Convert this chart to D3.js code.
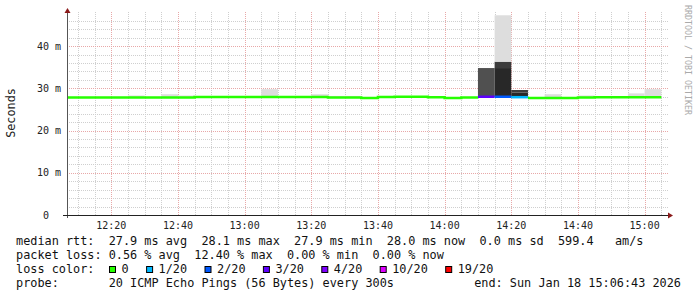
<!DOCTYPE html>
<html>
<head>
<meta charset="utf-8">
<script src="https://cdn.jsdelivr.net/npm/d3@7"></script>
<style>
  body { margin: 0; background: #fff; }
  text { font-family: "DejaVu Sans Mono", monospace; }
</style>
</head>
<body>
<script>
// step end times (5 min steps), median rtt in ms, lost pings out of 20
const stepEnd = ['12:10','12:15','12:20','12:25','12:30','12:35','12:40','12:45','12:50','12:55',
  '13:00','13:05','13:10','13:15','13:20','13:25','13:30','13:35','13:40','13:45',
  '13:50','13:55','14:00','14:05','14:10','14:15','14:20','14:25','14:30','14:35',
  '14:40','14:45','14:50','14:55','15:00','15:05'];
const median = [27.8,27.8,27.8,27.8,27.8,27.8,27.8,27.8,27.95,27.95,
  27.95,27.95,27.95,27.95,27.95,27.95,27.8,27.8,27.7,27.95,
  28.0,28.0,27.9,27.7,27.8,28.0,28.0,27.9,27.7,27.7,
  27.7,27.8,27.9,27.9,27.9,27.9];
const loss = [0,0,0,0,0,0,0,0,0,0, 0,0,0,0,0,0,0,0,0,0, 0,0,0,0,0,3,2,1,0,0, 0,0,0,0,0,0];

// smoke bands: step index, low ms, high ms, pings overlapping (darker = more)
const bandStep  = [4, 6, 7, 12, 15, 16, 17, 19, 22, 25, 26, 26, 26, 27, 27, 29, 31, 34, 35];
const bandLo    = [27.8, 27.8, 27.8, 27.9, 27.9, 27.8, 27.8, 27.9, 27.9, 28.0, 28.0, 34.8, 36.3, 27.9, 29.0, 27.7, 27.8, 27.9, 27.9];
const bandHi    = [28.3, 28.6, 28.3, 29.8, 28.6, 28.2, 28.2, 28.2, 28.0, 34.8, 34.8, 36.3, 47.3, 29.0, 29.6, 28.6, 28.3, 28.8, 29.8];
const bandPings = [1, 1, 1, 1, 1, 1, 1, 1, 1, 8, 10, 9, 1, 10, 9, 1, 1, 1, 1];

const yTicks = [0, 10, 20, 30, 40];
const lossLevels = [0, 1, 2, 3, 4, 10, 19];
const lossLabels = ['0', '1/20', '2/20', '3/20', '4/20', '10/20', '19/20'];
const lossColors = ['#26ff00', '#00b8ff', '#0059ff', '#5e00ff', '#7e00ff', '#dd00ff', '#ff0000'];

const legendRows = [
  'median rtt:  27.9 ms avg  28.1 ms max  27.9 ms min  28.0 ms now  0.0 ms sd  599.4   am/s',
  'packet loss: 0.56 % avg  12.40 % max  0.00 % min  0.00 % now'
];
const probeText = 'probe:       20 ICMP Echo Pings (56 Bytes) every 300s';
const endText = 'end: Sun Jan 18 15:06:43 2026';

const W = 697, H = 297;
const plotL = 67, plotR = 667, plotT = 14, plotB = 215;

const parseT = (s) => {
  const [h, m] = s.split(':').map(Number);
  return new Date(2026, 0, 18, h, m, 0);
};
const tStart = new Date(2026, 0, 18, 12, 6, 43);
const tEnd = new Date(2026, 0, 18, 15, 6, 43);
const step = 300 * 1000;

const x = d3.scaleTime().domain([tStart, tEnd]).range([plotL, plotR]);
const y = d3.scaleLinear().domain([0, 47.6]).range([plotB, plotT]);
const shade = d3.scaleLinear().domain([1, 10]).range(['#dddddd', '#282828']);
const lossColor = d3.scaleThreshold().domain(lossLevels.slice(1)).range(lossColors);

const svg = d3.select('body').append('svg')
  .attr('width', W).attr('height', H)
  .style('display', 'block');

svg.append('defs').append('clipPath').attr('id', 'plot')
  .append('rect').attr('x', plotL).attr('y', 0).attr('width', plotR - plotL).attr('height', plotB);

// grid
const minorX = d3.timeMinute.every(5).range(tStart, tEnd);
const majorX = d3.timeMinute.every(20).range(tStart, tEnd);
const minorY = d3.range(2, 48, 2).filter((v) => v % 10 !== 0);

const grid = svg.append('g');
grid.selectAll('.vmin').data(minorX.filter((d) => d.getMinutes() % 20 !== 0)).enter()
  .append('line')
  .attr('x1', (d) => Math.round(x(d)) + 0.5).attr('x2', (d) => Math.round(x(d)) + 0.5)
  .attr('y1', 12).attr('y2', plotB)
  .attr('stroke', '#cfcfcf').attr('stroke-dasharray', '1,1');
grid.selectAll('.hmin').data(minorY).enter()
  .append('line')
  .attr('x1', plotL).attr('x2', plotR + 2)
  .attr('y1', (d) => Math.round(y(d)) + 0.5).attr('y2', (d) => Math.round(y(d)) + 0.5)
  .attr('stroke', '#cfcfcf').attr('stroke-dasharray', '1,1');
grid.selectAll('.vmaj').data(majorX).enter()
  .append('line')
  .attr('x1', (d) => Math.round(x(d)) + 0.5).attr('x2', (d) => Math.round(x(d)) + 0.5)
  .attr('y1', 12).attr('y2', plotB)
  .attr('stroke', '#e8a8a8').attr('stroke-dasharray', '1,1');
grid.selectAll('.hmaj').data(yTicks.slice(1)).enter()
  .append('line')
  .attr('x1', plotL).attr('x2', plotR + 2)
  .attr('y1', (d) => Math.round(y(d)) + 0.5).attr('y2', (d) => Math.round(y(d)) + 0.5)
  .attr('stroke', '#e8a8a8').attr('stroke-dasharray', '1,1');

// smoke
const plot = svg.append('g').attr('clip-path', 'url(#plot)');
plot.selectAll('.smoke').data(bandStep.map((s, i) => i)).enter()
  .append('rect')
  .attr('x', (i) => x(new Date(parseT(stepEnd[bandStep[i]]) - step)))
  .attr('width', (i) => x(parseT(stepEnd[bandStep[i]])) - x(new Date(parseT(stepEnd[bandStep[i]]) - step)))
  .attr('y', (i) => y(bandHi[i]))
  .attr('height', (i) => y(bandLo[i]) - y(bandHi[i]))
  .attr('fill', (i) => shade(bandPings[i]));

// median line, one run per loss colour
const runs = [];
stepEnd.forEach((s, i) => {
  const c = lossColor(loss[i]);
  if (!runs.length || runs[runs.length - 1].color !== c) runs.push({ color: c, idx: [] });
  runs[runs.length - 1].idx.push(i);
});
const line = d3.line().x((d) => x(d[0])).y((d) => y(d[1])).curve(d3.curveStepAfter);
runs.forEach((r) => {
  const pts = r.idx.map((i) => [new Date(parseT(stepEnd[i]) - step), median[i]]);
  const last = r.idx[r.idx.length - 1];
  pts.push([parseT(stepEnd[last]), median[last]]);
  plot.append('path').attr('d', line(pts))
    .attr('fill', 'none').attr('stroke', r.color).attr('stroke-width', 2.5);
});

// axes
svg.append('line').attr('x1', plotL + 0.5).attr('x2', plotL + 0.5).attr('y1', plotB + 3).attr('y2', 12)
  .attr('stroke', '#555');
svg.append('line').attr('x1', plotL - 4).attr('x2', plotR + 2).attr('y1', plotB + 0.5).attr('y2', plotB + 0.5)
  .attr('stroke', '#222');
svg.append('path').attr('d', `M${plotL - 2.5},13 L${plotL + 0.5},8 L${plotL + 3.5},13 Z`).attr('fill', '#8b1a1a');
svg.append('path').attr('d', `M${plotR + 1},${plotB - 2.5} L${plotR + 6},${plotB + 0.5} L${plotR + 1},${plotB + 3.5} Z`).attr('fill', '#8b1a1a');

svg.selectAll('.ylab').data(yTicks).enter()
  .append('text')
  .attr('x', (d) => d === 0 ? 49 : 61)
  .attr('y', (d) => y(d) + 3.5)
  .attr('text-anchor', 'end')
  .attr('font-size', '10px').attr('fill', '#222')
  .text((d) => d === 0 ? '0' : d + ' m');

svg.selectAll('.xlab').data(majorX).enter()
  .append('text')
  .attr('x', (d) => x(d))
  .attr('y', 229)
  .attr('text-anchor', 'middle')
  .attr('font-size', '10px').attr('fill', '#222')
  .text(d3.timeFormat('%H:%M'));

svg.append('text')
  .attr('transform', 'translate(15,113) rotate(-90)')
  .attr('text-anchor', 'middle')
  .attr('font-size', '11.8px').attr('fill', '#222')
  .text('Seconds');

svg.append('text')
  .attr('transform', 'translate(684.5,5) rotate(90)')
  .attr('font-size', '8.3px').attr('fill', '#aaa')
  .text('RRDTOOL / TOBI OETIKER');

// legend
const lg = svg.append('g').attr('font-size', '11.85px').attr('fill', '#111');
legendRows.forEach((t, i) => {
  lg.append('text').attr('x', 16).attr('y', 245 + i * 14)
    .attr('xml:space', 'preserve').style('white-space', 'pre').text(t);
});
lg.append('text').attr('x', 16).attr('y', 273).text('loss color:');
let lx = 109;
lossLabels.forEach((l, i) => {
  lg.append('rect').attr('x', lx + 0.5).attr('y', 266.5).attr('width', 6).attr('height', 6)
    .attr('fill', lossColors[i]).attr('stroke', '#000');
  lg.append('text').attr('x', lx + 12.5).attr('y', 273).text(l);
  lx += 30 + l.length * 7.1;
});
lg.append('text').attr('x', 16).attr('y', 287)
  .attr('xml:space', 'preserve').style('white-space', 'pre').text(probeText);
lg.append('text').attr('x', 681).attr('y', 287).attr('text-anchor', 'end').text(endText);
</script>
</body>
</html>
